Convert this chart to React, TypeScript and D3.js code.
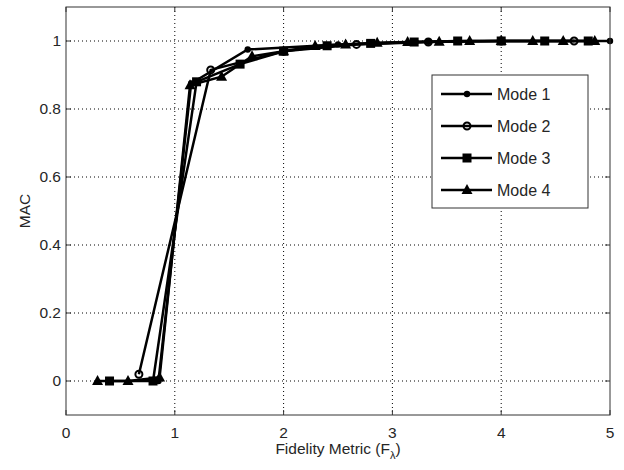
import React from "react";
import { scaleLinear, line } from "d3";

// mode sample positions (fidelity metric) and MAC values
const mode1X = [0.85, 1.15, 1.67, 2.5, 3.33, 4.0, 5.0];
const mode1Y = [0, 0.875, 0.975, 0.99, 0.998, 1, 1];

const mode2X = [0.67, 1.33, 2.0, 2.67, 3.33, 4.0, 4.67];
const mode2Y = [0.02, 0.915, 0.97, 0.99, 0.997, 1, 1];

const mode3X = [0.4, 0.8, 1.2, 1.6, 2.0, 2.4, 2.8, 3.2, 3.6, 4.0, 4.4, 4.8];
const mode3Y = [0, 0, 0.88, 0.932, 0.97, 0.986, 0.993, 0.997, 1, 1, 1, 1];

const mode4X = [0.29, 0.57, 0.86, 1.14, 1.43, 1.71, 2.0, 2.29, 2.57, 2.86, 3.14, 3.43, 3.71, 4.0, 4.29, 4.57, 4.86];
const mode4Y = [0, 0, 0.01, 0.87, 0.895, 0.955, 0.97, 0.985, 0.99, 0.995, 0.997, 0.998, 1, 1, 1, 1, 1];

const modeNames = ["Mode 1", "Mode 2", "Mode 3", "Mode 4"];
const markerKinds = ["dot", "circle", "square", "triangle"];

const xTicks = [0, 1, 2, 3, 4, 5];
const yTicks = [0, 0.2, 0.4, 0.6, 0.8, 1];

const W = 624;
const H = 470;
const margin = { left: 66, right: 14, top: 7, bottom: 55 };
const FONT = "'Liberation Sans', Arial, sans-serif";
const TXT = "#262626";

function Marker({ kind, x, y }) {
  if (kind === "dot") return <circle cx={x} cy={y} r={3.2} fill="#000" />;
  // matlab 'o' has no fill, the line shows through
  if (kind === "circle")
    return <circle cx={x} cy={y} r={3.5} fill="none" stroke="#000" strokeWidth={2} />;
  if (kind === "square")
    return <rect x={x - 4.5} y={y - 4.5} width={9} height={9} fill="#000" />;
  return (
    <path
      d={`M${x},${y - 6} L${x + 5.5},${y + 4} L${x - 5.5},${y + 4} Z`}
      fill="#000"
    />
  );
}

export default function App() {
  const x = scaleLinear().domain([0, 5]).range([margin.left, W - margin.right]);
  const y = scaleLinear().domain([-0.1, 1.1]).range([H - margin.bottom, margin.top]);

  const series = [
    mode1X.map((v, i) => [v, mode1Y[i]]),
    mode2X.map((v, i) => [v, mode2Y[i]]),
    mode3X.map((v, i) => [v, mode3Y[i]]),
    mode4X.map((v, i) => [v, mode4Y[i]]),
  ];

  const path = line()
    .x(d => x(d[0]))
    .y(d => y(d[1]));

  const x0 = margin.left;
  const x1 = W - margin.right;
  const y0 = margin.top;
  const y1 = H - margin.bottom;

  // legend box
  const lg = { x: 432, y: 75, w: 156, h: 133 };

  return (
    <svg
      width={W}
      height={H}
      style={{ position: "absolute", left: 0, top: 0, background: "#fff" }}
      fontFamily={FONT}
    >
      <rect x={0} y={0} width={W} height={H} fill="#fff" />

      {/* dotted grid */}
      {xTicks.slice(1, -1).map(t => (
        <line key={"gx" + t} x1={x(t)} x2={x(t)} y1={y0} y2={y1}
          stroke="#000" strokeWidth={1} strokeDasharray="1,3" />
      ))}
      {yTicks.map(t => (
        <line key={"gy" + t} x1={x0} x2={x1} y1={y(t)} y2={y(t)}
          stroke="#000" strokeWidth={1} strokeDasharray="1,3" />
      ))}

      {/* ticks */}
      {xTicks.map(t => (
        <g key={"tx" + t}>
          <line x1={x(t)} x2={x(t)} y1={y1} y2={y1 - 5} stroke="#333" />
          <line x1={x(t)} x2={x(t)} y1={y0} y2={y0 + 5} stroke="#333" />
          <text x={x(t)} y={y1 + 23} textAnchor="middle" fontSize={15.5} fill={TXT}>
            {t}
          </text>
        </g>
      ))}
      {yTicks.map(t => (
        <g key={"ty" + t}>
          <line x1={x0} x2={x0 + 5} y1={y(t)} y2={y(t)} stroke="#333" />
          <line x1={x1} x2={x1 - 5} y1={y(t)} y2={y(t)} stroke="#333" />
          <text x={x0 - 5} y={y(t) + 5} textAnchor="end" fontSize={15.5} fill={TXT}>
            {t}
          </text>
        </g>
      ))}

      {/* data */}
      {series.map((s, i) => (
        <path key={"l" + i} d={path(s)} fill="none" stroke="#000" strokeWidth={2.5} />
      ))}
      {series.map((s, i) =>
        s.map((d, j) => (
          <Marker key={`m${i}-${j}`} kind={markerKinds[i]} x={x(d[0])} y={y(d[1])} />
        ))
      )}

      {/* frame */}
      <rect x={x0} y={y0} width={x1 - x0} height={y1 - y0} fill="none" stroke="#333" strokeWidth={1} />

      {/* legend */}
      <rect x={lg.x} y={lg.y} width={lg.w} height={lg.h} fill="#fff" stroke="#333" strokeWidth={1} />
      {modeNames.map((name, i) => {
        const ly = lg.y + 19 + i * 32;
        return (
          <g key={name}>
            <line x1={lg.x + 9} x2={lg.x + 60} y1={ly} y2={ly} stroke="#000" strokeWidth={2.5} />
            <Marker kind={markerKinds[i]} x={lg.x + 35} y={ly} />
            <text x={lg.x + 65} y={ly + 6} fontSize={16} fill={TXT}>
              {name}
            </text>
          </g>
        );
      })}

      {/* axis titles */}
      <text x={(x0 + x1) / 2} y={H - 16} textAnchor="middle" fontSize={15.5} fill={TXT}>
        Fidelity Metric (F
        <tspan fontSize={11} dy={5}>λ</tspan>
        <tspan dy={-5}>)</tspan>
      </text>
      <text
        transform={`translate(30, ${(y0 + y1) / 2}) rotate(-90)`}
        textAnchor="middle"
        fontSize={15.5}
        fill={TXT}
      >
        MAC
      </text>
    </svg>
  );
}
